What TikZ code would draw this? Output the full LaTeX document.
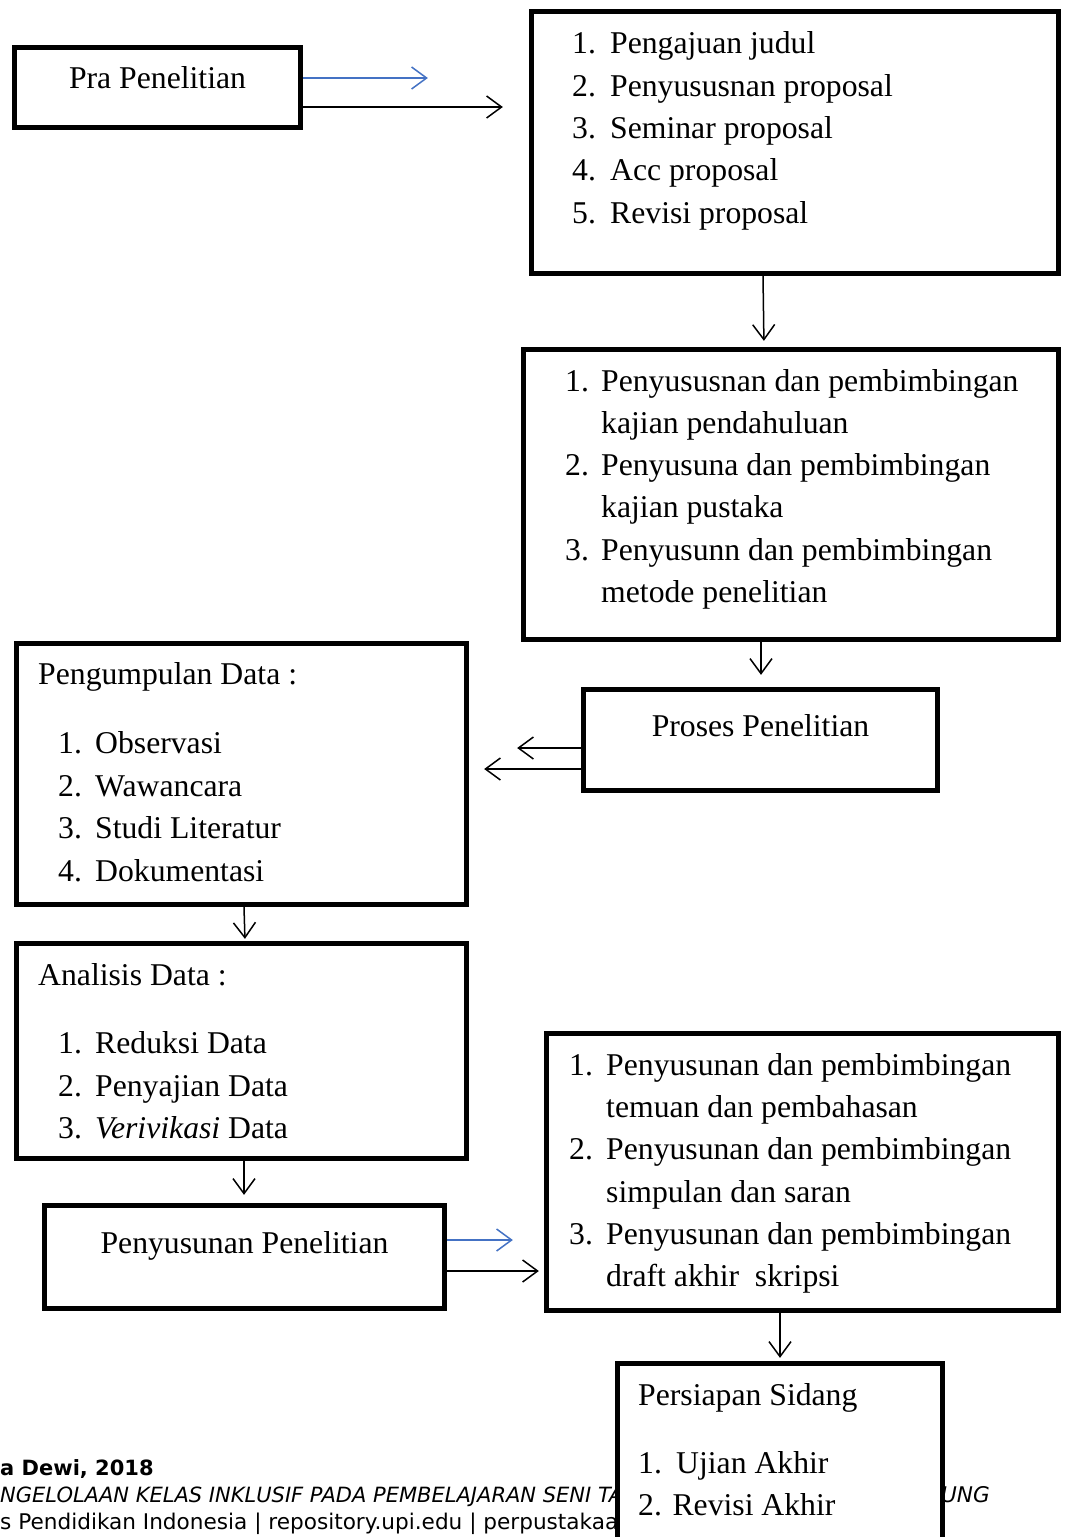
\documentclass[tikz,border=0pt]{standalone}
\usepackage{fontspec}
\setmainfont{Liberation Serif}
\newfontfamily\footfont{DejaVu Sans}
\usetikzlibrary{arrows.meta}
\definecolor{arrowblue}{RGB}{68,114,196}
\newcommand\bodyfont{\fontsize{31.7}{40}\selectfont}
\newcommand\itm[2]{\makebox[#1pt][l]{#2}}
\begin{document}
\begin{tikzpicture}[x=1pt,y=-1pt,
  box/.style={draw=black, line width=4.8pt, fill=white, inner sep=0pt},
  txt/.style={anchor=base west, inner sep=0pt, font=\bodyfont},
  ctxt/.style={anchor=base, inner sep=0pt, font=\bodyfont},
  foot/.style={anchor=base west, inner sep=0pt, font=\footfont\fontsize{21.6}{27}\selectfont},
  arr/.style={draw=black, line width=1.5pt, -{Straight Barb[length=15pt,width=22pt,line width=1.5pt]}},
  barr/.style={arr, draw=arrowblue}]
\useasboundingbox (0,0) rectangle (1070,1537);
\fill[white] (0,0) rectangle (1070,1537);

% footer text (partly covered by the last box)
\node[foot, font=\footfont\bfseries\fontsize{21}{27}\selectfont] (f1) at (0,1475) {a Dewi, 2018};
\node[foot, font=\footfont\itshape\fontsize{21}{27}\selectfont] (f2) at (0,1502) {NGELOLAAN KELAS INKLUSIF PADA PEMBELAJARAN SENI TA};
\node[foot, font=\footfont\itshape\fontsize{21.6}{27}\selectfont, anchor=base east] (f2b) at (990,1502) {UNG};
\node[foot] (f3) at (0,1529) {s Pendidikan Indonesia | repository.upi.edu | perpustakaan};

% boxes
\node[box, minimum width=286.5pt, minimum height=80.5pt] (A) at (157.5,87.5) {};
\node[box, minimum width=527.5pt, minimum height=262.5pt] (B) at (795,142.5) {};
\node[box, minimum width=535.5pt, minimum height=290.5pt] (C) at (791,494.5) {};
\node[box, minimum width=354.5pt, minimum height=101.5pt] (D) at (760.5,740) {};
\node[box, minimum width=450.5pt, minimum height=261.5pt] (E) at (241.5,774) {};
\node[box, minimum width=450.5pt, minimum height=215.5pt] (F) at (241.5,1051) {};
\node[box, minimum width=400.5pt, minimum height=103.5pt] (G) at (244.5,1257) {};
\node[box, minimum width=512.5pt, minimum height=277.5pt] (H) at (802.5,1172) {};
\node[box, minimum width=325.5pt, minimum height=200pt] (I) at (780,1463.25) {};

% texts
\node[ctxt] (ta) at (157.5,88) {Pra Penelitian};

\node[txt] (b1) at (572,53.5) {\itm{38}{1.}Pengajuan judul};
\node[txt] (b2) at (572,96.5) {\itm{38}{2.}Penyususnan proposal};
\node[txt] (b3) at (572,138.5) {\itm{38}{3.}Seminar proposal};
\node[txt] (b4) at (572,180.5) {\itm{38}{4.}Acc proposal};
\node[txt] (b5) at (572,223.5) {\itm{38}{5.}Revisi proposal};

\node[txt] (c1) at (565,391.5) {\itm{36}{1.}Penyususnan dan pembimbingan};
\node[txt] (c1b) at (601,433.5) {kajian pendahuluan};
\node[txt] (c2) at (565,475.5) {\itm{36}{2.}Penyusuna dan pembimbingan};
\node[txt] (c2b) at (601,517.5) {kajian pustaka};
\node[txt] (c3) at (565,560.5) {\itm{36}{3.}Penyusunn dan pembimbingan};
\node[txt] (c3b) at (601,602.5) {metode penelitian};

\node[ctxt] (td) at (760.5,736.5) {Proses Penelitian};

\node[txt] (e0) at (38,684.5) {Pengumpulan Data :};
\node[txt] (e1) at (58,753.5) {\itm{37}{1.}Observasi};
\node[txt] (e2) at (58,796.5) {\itm{37}{2.}Wawancara};
\node[txt] (e3) at (58,838.5) {\itm{37}{3.}Studi Literatur};
\node[txt] (e4) at (58,881.5) {\itm{37}{4.}Dokumentasi};

\node[txt] (g0) at (38,985.5) {Analisis Data :};
\node[txt] (g1) at (58,1053.5) {\itm{37}{1.}Reduksi Data};
\node[txt] (g2) at (58,1096.5) {\itm{37}{2.}Penyajian Data};
\node[txt] (g3) at (58,1138.5) {\itm{37}{3.}\textit{Verivikasi} Data};

\node[ctxt] (tg) at (244.5,1253.5) {Penyusunan Penelitian};

\node[txt] (h1) at (569,1075.5) {\itm{37}{1.}Penyusunan dan pembimbingan};
\node[txt] (h1b) at (606,1117.5) {temuan dan pembahasan};
\node[txt] (h2) at (569,1159.5) {\itm{37}{2.}Penyusunan dan pembimbingan};
\node[txt] (h2b) at (606,1202.5) {simpulan dan saran};
\node[txt] (h3) at (569,1244.5) {\itm{37}{3.}Penyusunan dan pembimbingan};
\node[txt] (h3b) at (606,1286.5) {draft akhir\ \ skripsi};

\node[txt] (i0) at (638,1405.5) {Persiapan Sidang};
\node[txt] (i1) at (638,1473.5) {\itm{38}{1.}Ujian Akhir};
\node[txt] (i2) at (638,1515.5) {2. Revisi Akhir};

% connectors
\coordinate (a1) at ([yshift=9.5pt]A.east);
\coordinate (a2) at ([yshift=-19.5pt]A.east);
\draw[barr, shorten >=101pt] (a1) -- (a1 -| B.west);
\draw[arr, shorten >=26pt] (a2) -- (a2 -| B.west);

\draw[arr, shorten >=6pt] ([xshift=-32pt]B.south) -- ([xshift=-27pt]C.north);
\draw[arr, shorten >=12pt] ([xshift=-30pt]C.south) -- ([xshift=0.5pt]D.north);

\coordinate (d1) at ([yshift=-8pt]D.west);
\coordinate (d2) at ([yshift=-29pt]D.west);
\draw[arr, shorten >=48pt] (d1) -- (d1 -| E.east);
\draw[arr, shorten >=15pt] (d2) -- (d2 -| E.east);

\draw[arr, shorten >=2pt] ([xshift=2.5pt]E.south) -- ([xshift=3.5pt]F.north);
\draw[arr, shorten >=8pt] ([xshift=2.5pt]F.south) -- ([xshift=-0.5pt]G.north);

\coordinate (g1c) at ([yshift=17pt]G.east);
\coordinate (g2c) at ([yshift=-14pt]G.east);
\draw[barr, shorten >=31pt] (g1c) -- (g1c -| H.west);
\draw[arr, shorten >=5pt] (g2c) -- (g2c -| H.west);

\draw[arr, shorten >=3pt] ([xshift=-22.5pt]H.south) -- (I.north);
\end{tikzpicture}
\end{document}
